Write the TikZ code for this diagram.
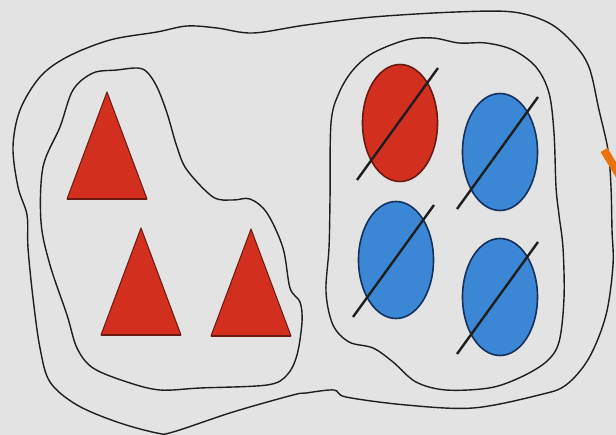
\documentclass[tikz,border=0pt]{standalone}
\usetikzlibrary{shapes.geometric}

\definecolor{paper}{HTML}{E3E3E3}
\definecolor{pencil}{HTML}{1E1E1E}
\definecolor{redfill}{HTML}{D32F1E}
\definecolor{redline}{HTML}{6A1A10}
\definecolor{bluefill}{HTML}{3B87D6}
\definecolor{blueline}{HTML}{15305A}
\definecolor{markorange}{HTML}{E8720C}

\begin{document}
\begin{tikzpicture}[
  x=1pt, y=-1pt,
  blob/.style={
    draw=pencil,
    line width=1.4pt
  },
  tri/.style={
    fill=redfill,
    draw=redline,
    line width=1pt,
    line join=round
  },
  disc/.style={
    ellipse,
    draw,
    line width=1.6pt,
    minimum width=75pt,
    minimum height=117pt,
    inner sep=0pt
  },
  slash/.style={
    draw=pencil,
    line width=2.4pt
  }
]

% Page
\fill[paper] (0,0) rectangle (616,435);
\useasboundingbox (0,0) rectangle (616,435);
\clip (0,0) rectangle (616,435);

% Outer set
\draw[blob] plot[smooth cycle, tension=0.55] coordinates {
  (13,147) (20,110) (40,77) (67,57) (110,40) (157,32) (187,26) (217,28)
  (253,33) (306,25) (373,17) (456,12) (513,12) (549,23) (573,43) (589,67)
  (599,110) (608,150) (611,187) (612,230) (613,265) (606,315) (589,358)
  (566,385) (539,395) (473,408) (406,405) (346,397) (334,390) (306,393)
  (293,395) (233,412) (173,432) (157,433) (117,422) (77,405) (50,382)
  (40,348) (33,298) (28,248) (27,215) (18,187)};

% Triangle set
\draw[blob] plot[smooth cycle, tension=0.55] coordinates {
  (43,167) (60,127) (73,90) (93,73) (117,70) (137,68) (147,72) (157,87)
  (167,113) (177,147) (187,170) (213,197) (233,200) (250,199) (267,213)
  (283,248) (290,288) (300,302) (302,322) (297,355) (287,375) (267,385)
  (200,388) (160,390) (127,382) (93,368) (77,348) (67,315) (50,265) (41,222)};

% Circle set
\draw[blob] plot[smooth cycle, tension=0.55] coordinates {
  (331,123) (339,93) (353,70) (373,53) (406,40) (433,38) (459,43) (486,43)
  (513,50) (536,67) (549,93) (554,133) (556,187) (559,215) (563,248)
  (564,298) (559,342) (546,362) (519,378) (489,388) (446,390) (416,382)
  (393,362) (373,348) (349,342) (333,325) (326,292) (329,248) (330,200)};

% Triangles
\foreach \ax/\ay in {107/92, 141/228, 251/229} {
  \filldraw[tri] (\ax,\ay) -- ++(-40,107) -- ++(80,0) -- cycle;
  \draw[redline, line width=2pt] (\ax-40,\ay+107) -- ++(80,0);
}

% Circles, crossed out
\foreach \name/\cx/\cy/\fc/\dc in {
    redc/400/123/redfill/redline,
    bluetr/500/152/bluefill/blueline,
    bluebl/396/260/bluefill/blueline,
    bluebr/500/297/bluefill/blueline} {
  \node[disc, fill=\fc, draw=\dc] (\name) at (\cx,\cy) {};
  \draw[slash] ([shift={(-43,57)}]\name.center) -- ([shift={(38,-55)}]\name.center);
}

% Orange mark at the edge
\draw[markorange, line width=8pt] (604,150) -- (624,183);

\end{tikzpicture}
\end{document}
